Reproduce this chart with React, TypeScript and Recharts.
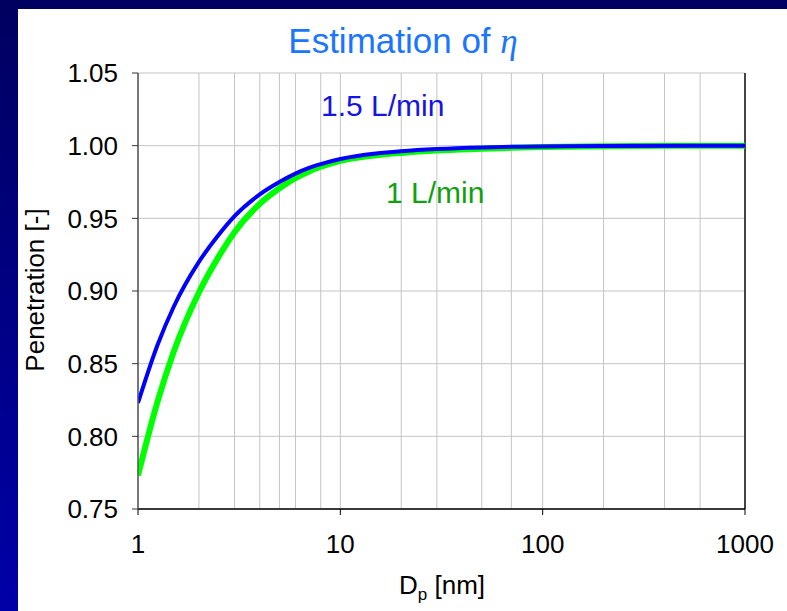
import { CartesianGrid, Line, LineChart, ReferenceLine, XAxis, YAxis } from "recharts";

// particle diameter [nm]
const diameters = [1, 1.25, 1.5, 2, 2.5, 3, 4, 5, 6, 7, 8, 10, 15, 20, 30, 50, 70, 100, 200, 500, 1000];

// penetration at 1.5 L/min
const flow15 = [0.823, 0.863, 0.889, 0.92, 0.9385, 0.9515, 0.9665, 0.975, 0.9808, 0.9847, 0.9873, 0.9908, 0.9946, 0.9962, 0.9977, 0.9988, 0.9992, 0.9995, 0.9998, 1.0, 1.0];

// penetration at 1 L/min
const flow10 = [0.773, 0.824, 0.858, 0.899, 0.9235, 0.9405, 0.96, 0.9707, 0.9777, 0.9823, 0.9855, 0.9896, 0.9934, 0.995, 0.9966, 0.9978, 0.9985, 0.999, 0.9996, 0.9999, 1.0];

const xTicks = [1, 10, 100, 1000];
const minorTicks = [
    1, 2, 3, 4, 5, 6, 7, 8, 9,
    10, 20, 30, 40, 50, 60, 70, 80, 90,
    100, 200, 300, 400, 500, 600, 700, 800, 900, 1000,
];
const yTicks = [0.75, 0.8, 0.85, 0.9, 0.95, 1.0, 1.05];

const data = diameters.map((d, i) => ({ d, high: flow15[i], low: flow10[i] }));

const font = "'Liberation Sans', Arial, sans-serif";

export default function App() {
    return (
        <div
            style={{
                position: "fixed",
                left: 0,
                top: 0,
                width: 787,
                height: 611,
                background: "linear-gradient(180deg, #000060 0%, #0000a8 100%)",
                fontFamily: font,
            }}
        >
            <div style={{ position: "absolute", left: 18, top: 9, width: 769, height: 602, background: "#fff" }} />
            <div style={{ position: "absolute", left: 0, top: 0 }}>
                <LineChart width={787} height={611} data={data} margin={{ top: 73, right: 42, bottom: 42, left: 78 }}>
                    <XAxis xAxisId="minor" dataKey="d" type="number" scale="log" domain={[1, 1000]} ticks={minorTicks} hide />
                    <CartesianGrid xAxisId="minor" stroke="#c4c4c4" strokeWidth={1} />
                    <XAxis
                        dataKey="d"
                        type="number"
                        scale="log"
                        domain={[1, 1000]}
                        ticks={xTicks}
                        height={60}
                        tickSize={6}
                        tickMargin={20}
                        axisLine={{ stroke: "#000", strokeWidth: 1.5 }}
                        tickLine={{ stroke: "#000" }}
                        tick={{ fill: "#000", fontSize: 26, fontFamily: font }}
                        allowDataOverflow
                    />
                    <YAxis
                        type="number"
                        domain={[0.75, 1.05]}
                        ticks={yTicks}
                        width={60}
                        tickSize={6}
                        tickMargin={14}
                        tickFormatter={(v: number) => v.toFixed(2)}
                        axisLine={{ stroke: "#555", strokeWidth: 1.5 }}
                        tickLine={{ stroke: "#333" }}
                        tick={{ fill: "#000", fontSize: 26, fontFamily: font }}
                        allowDataOverflow
                    />
                    <ReferenceLine x={1000} stroke="#111" strokeWidth={1.5} />
                    <Line dataKey="low" type="monotone" stroke="#00ff00" strokeWidth={6} dot={false} isAnimationActive={false} />
                    <Line dataKey="high" type="monotone" stroke="#0000ff" strokeWidth={4} dot={false} isAnimationActive={false} />
                </LineChart>
            </div>
            <svg width={787} height={611} style={{ position: "absolute", left: 0, top: 0, pointerEvents: "none" }}>
                <text x={403} y={53} textAnchor="middle" fontSize={35} fill="#1a75ff" fontFamily={font}>
                    Estimation of{" "}
                    <tspan fontFamily="'Liberation Serif', serif" fontStyle="italic">
                        η
                    </tspan>
                </text>
                <text x={321} y={116} fontSize={30} fill="#1414e6" fontFamily={font}>
                    1.5 L/min
                </text>
                <text x={386} y={203} fontSize={30} fill="#10a010" fontFamily={font}>
                    1 L/min
                </text>
                <text
                    x={44}
                    y={290}
                    transform="rotate(-90 44 290)"
                    textAnchor="middle"
                    fontSize={26}
                    fill="#000"
                    fontFamily={font}
                >
                    Penetration [-]
                </text>
                <text x={442} y={594} textAnchor="middle" fontSize={26} fill="#000" fontFamily={font}>
                    D
                    <tspan fontSize={17} dy={6}>
                        p
                    </tspan>
                    <tspan dy={-6}> [nm]</tspan>
                </text>
            </svg>
        </div>
    );
}
